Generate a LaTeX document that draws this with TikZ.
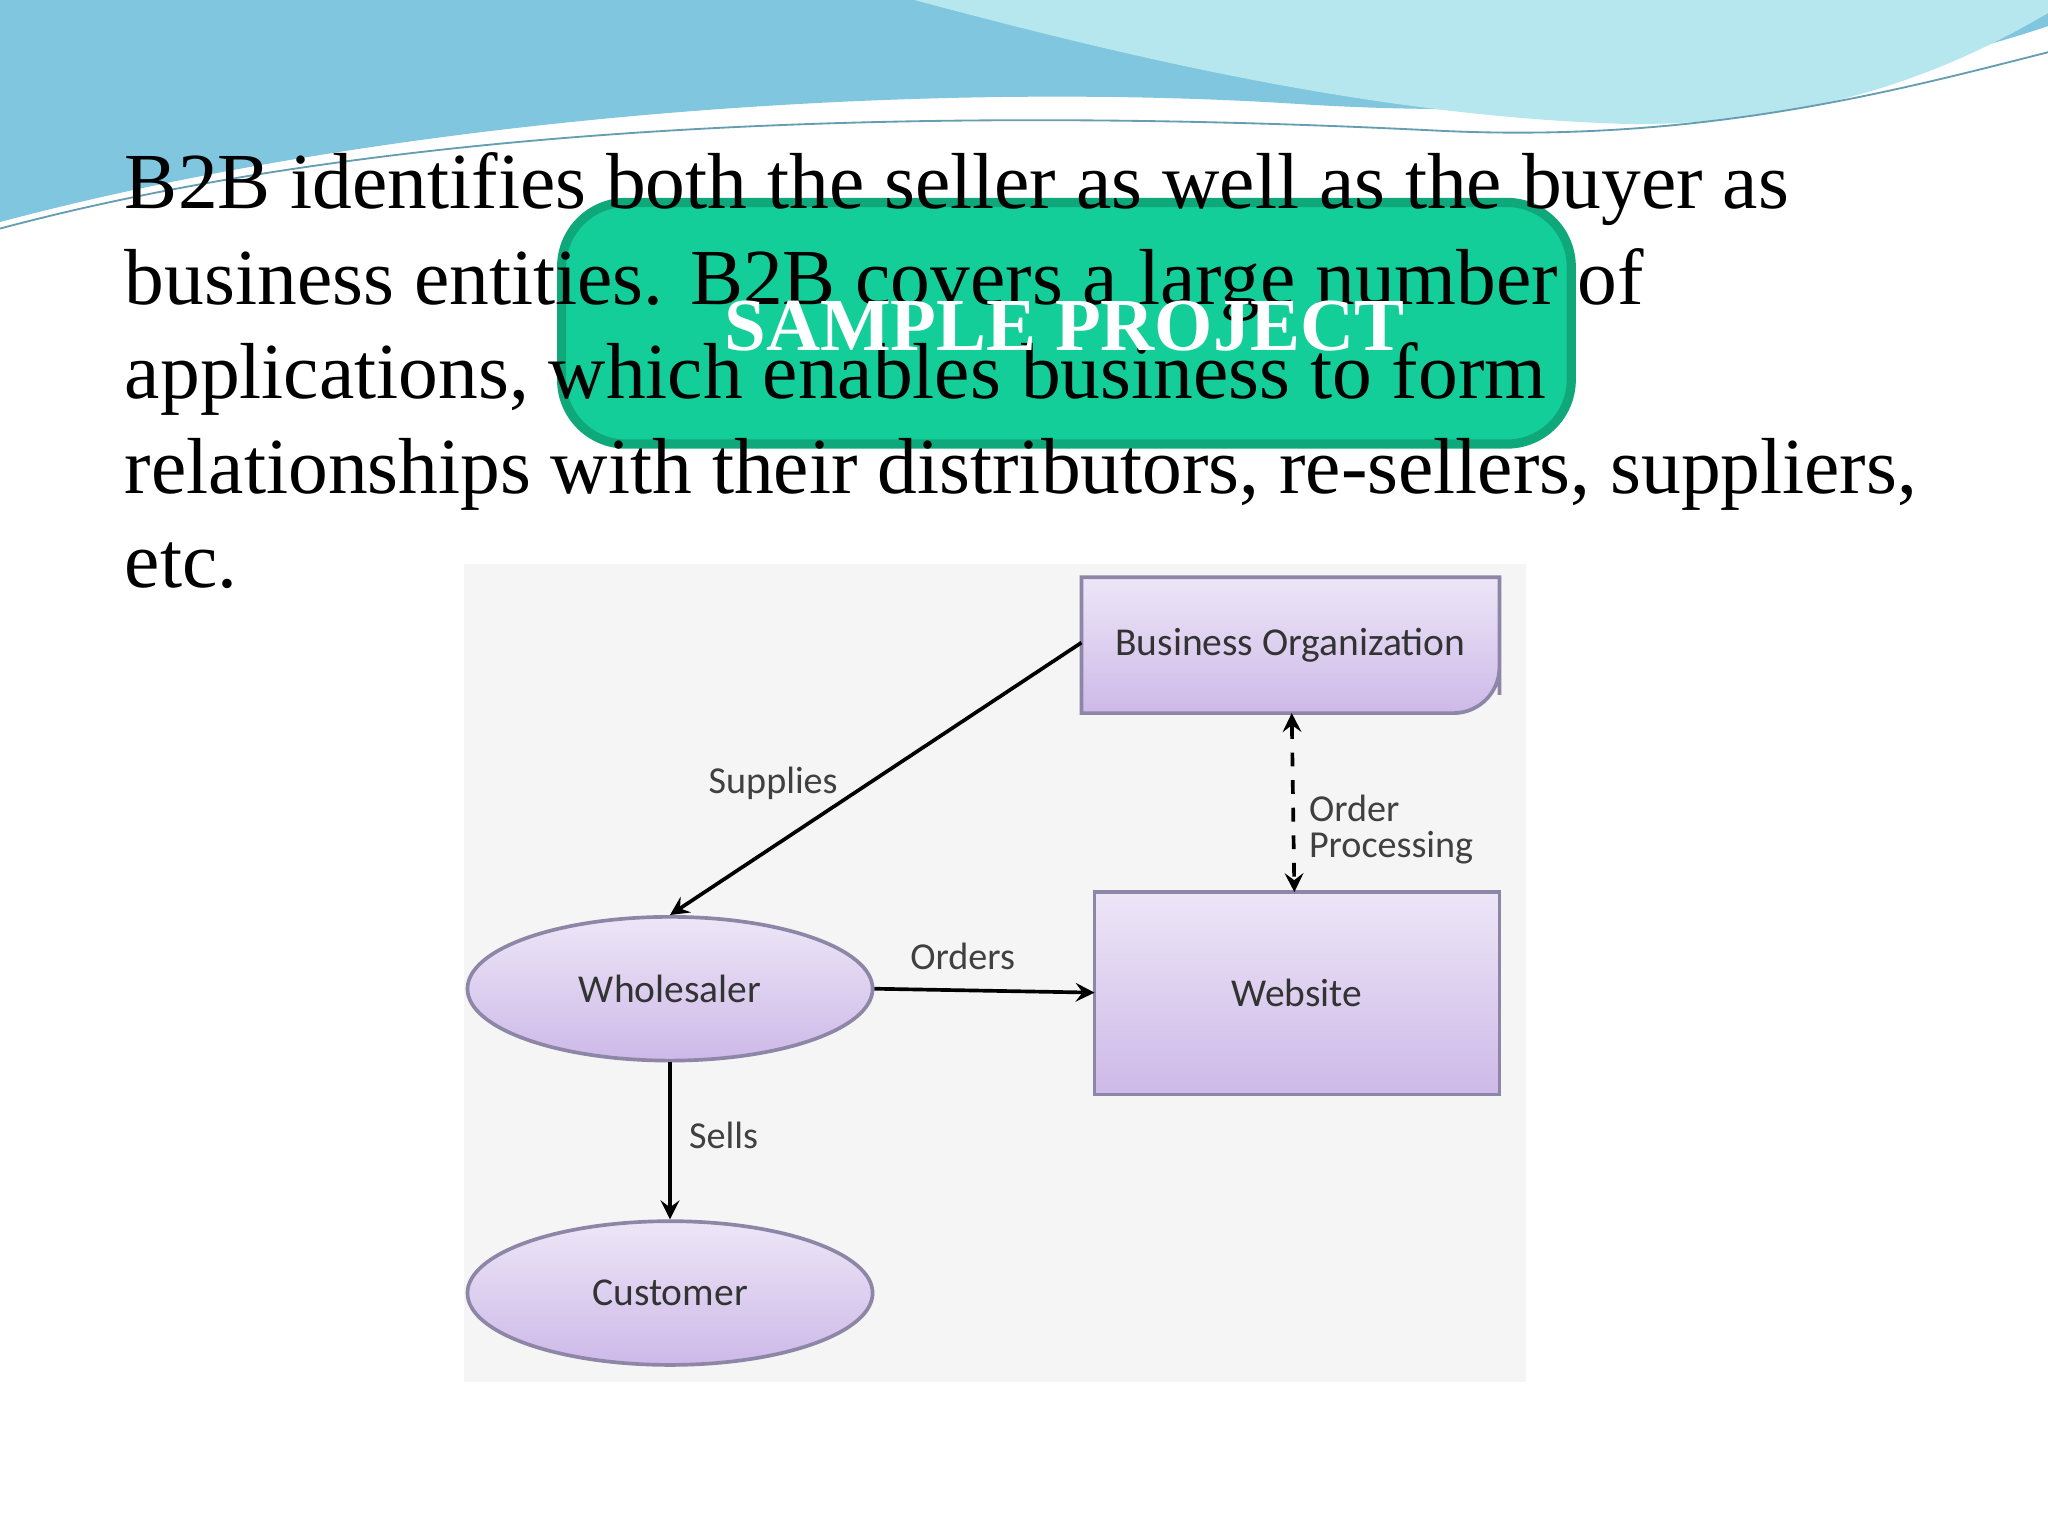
\documentclass[tikz,border=0pt]{standalone}
\usepackage{fontspec}
\setmainfont{Liberation Serif}
\newfontfamily\diagfont{Carlito}
\usetikzlibrary{shapes.geometric}
\definecolor{lavtop}{HTML}{EDE6F7}
\definecolor{lavbot}{HTML}{CDB9E8}
\definecolor{lavedge}{HTML}{8E86A6}
\definecolor{stampgreen}{HTML}{14CE99}
\definecolor{stampedge}{HTML}{0FA87A}
\definecolor{wavea}{HTML}{7FC6DE}
\definecolor{waveb}{HTML}{B6E6EE}
\begin{document}
\begin{tikzpicture}[
	x=0.01cm, y=-0.01cm,
	bodytext/.style={anchor=base west, inner sep=0pt, font=\fontsize{17.3}{20}\selectfont},
	boxnode/.style={draw=lavedge, top color=lavtop, bottom color=lavbot, thick},
	ovalnode/.style={ellipse, draw=lavedge, top color=lavtop, bottom color=lavbot, thick, minimum width=3.1cm, minimum height=1.1cm, font=\diagfont\fontsize{8.6}{10}\selectfont, text=black!80},
	flowlabel/.style={font=\diagfont\fontsize{8.3}{10}\selectfont, text=black!75, inner sep=1pt},
	flow/.style={thick, ->, >=stealth},
]
\useasboundingbox (0,0) rectangle (1568,1176);
\fill[white] (0,0) rectangle (1568,1176);
% waves at the top
\fill[wavea] (0,0) -- (0,170) .. controls (300,90) and (700,60) .. (1000,80) .. controls (1250,95) and (1450,60) .. (1568,20) -- (1568,0) -- cycle;
\fill[waveb] (700,0) .. controls (850,40) and (1050,90) .. (1250,95) .. controls (1400,95) and (1500,50) .. (1568,10) -- (1568,0) -- cycle;
\draw[wavea!80!black, thin] (0,175) .. controls (300,95) and (700,80) .. (1100,100) .. controls (1300,110) and (1450,70) .. (1568,40);
% stamp box
\draw[stampedge, line width=2pt, fill=stampgreen, rounded corners=14] (430,155) rectangle (1203,340);
% paragraph
\node[bodytext] (line1) at (95,160) {B2B identifies both the seller as well as the buyer as};
\node[bodytext] (line2) at (95,233) {business entities. B2B covers a large number of};
\node[bodytext] (line3) at (95,305) {applications, which enables business to form};
\node[bodytext] (line4) at (95,378) {relationships with their distributors, re-sellers, suppliers,};
\node[bodytext] (line5) at (95,450) {etc.};
\node[text=white, font=\bfseries\fontsize{16.3}{20}\selectfont] (stamp) at (815,250) {SAMPLE PROJECT};
% diagram
\fill[black!4] (355,432) rectangle (1168,1058);
\draw[boxnode, rounded corners=0] (828,442) -- (1148,442) -- (1148,532) [rounded corners=10] -- (1148,546) [rounded corners=0] -- (828,546) -- cycle;
\node[font=\diagfont\fontsize{8.6}{10}\selectfont, text=black!80] (busorg) at (988,494) {Business Organization};
\coordinate (busorgW) at (828,492);
\coordinate (busorgS) at (989,546);
\draw[boxnode] (838,683) rectangle (1148,838);
\node[font=\diagfont\fontsize{8.6}{10}\selectfont, text=black!80] (website) at (993,760) {Website};
\coordinate (websiteW) at (838,760);
\coordinate (websiteN) at (991,683);
\node[ovalnode] (wholesaler) at (513,757) {Wholesaler};
\node[ovalnode] (customer) at (513,990) {Customer};
\draw[flow] (busorgW) -- (wholesaler.north);
\draw[flow] (wholesaler.east) -- (websiteW);
\draw[flow] (wholesaler.south) -- (customer.north);
\draw[thick, dashed, <->, >=stealth] (busorgS) -- (websiteN);
\node[flowlabel] (supplies) at (592,600) {Supplies};
\node[flowlabel] (orders) at (737,732) {Orders};
\node[flowlabel] (sells) at (554,869) {Sells};
\node[flowlabel, anchor=west] (order) at (998,619) {Order};
\node[flowlabel, anchor=west] (processing) at (998,649) {Processing};
\end{tikzpicture}
\end{document}
